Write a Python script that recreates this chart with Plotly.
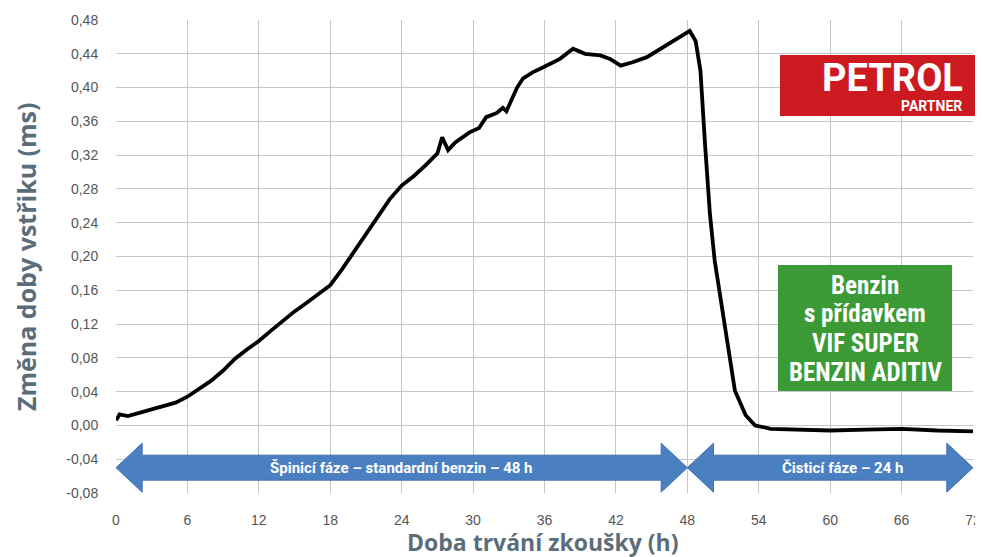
import plotly.graph_objects as go

# ---- data ----
hours = [0, 0.3, 1, 2, 3, 4, 5, 6, 7, 8, 9, 10, 11, 12, 13, 14, 15, 16, 17, 18,
         19, 20, 21, 22, 23, 24, 25, 26, 27, 27.4, 27.9, 28.5, 29.7, 30.5, 31.1,
         32, 32.5, 32.8, 33.7, 34.2, 35, 35.9, 37.3, 38.4, 39.4, 40.7, 41.5, 42.4,
         43.4, 44.6, 46, 47.4, 48.2, 48.7, 49.1, 49.5, 49.9, 50.3, 51.2, 52, 52.9,
         53.7, 55, 57, 60, 63, 66, 69, 72]
change_ms = [0.006, 0.013, 0.011, 0.015, 0.018, 0.022, 0.027, 0.034, 0.043, 0.053,
             0.065, 0.079, 0.09, 0.1, 0.112, 0.124, 0.135, 0.145, 0.155, 0.166,
             0.185, 0.206, 0.228, 0.248, 0.268, 0.284, 0.295, 0.308, 0.322, 0.341,
             0.326, 0.335, 0.347, 0.352, 0.365, 0.37, 0.376, 0.372, 0.4, 0.411,
             0.418, 0.424, 0.434, 0.446, 0.44, 0.438, 0.434, 0.426, 0.43, 0.436,
             0.448, 0.459, 0.467, 0.455, 0.42, 0.33, 0.25, 0.195, 0.112, 0.041,
             0.012, 0.0, -0.004, -0.005, -0.006, -0.005, -0.004, -0.006, -0.007]

x_ticks = [0, 6, 12, 18, 24, 30, 36, 42, 48, 54, 60, 66, 72]
y_ticks = [-0.08, -0.04, 0.0, 0.04, 0.08, 0.12, 0.16, 0.20, 0.24, 0.28, 0.32,
           0.36, 0.40, 0.44, 0.48]
y_ticklabels = [f"{v:.2f}".replace(".", ",") for v in y_ticks]

phases = [(0, 48, "Špinicí fáze – standardní benzin – 48 h"),
          (48, 72, "Čisticí fáze – 24 h")]
box_lines = ["Benzin", "s přídavkem", "VIF SUPER", "BENZIN ADITIV"]

# the page body has an 8px margin, so the figure is 8px smaller than the window
OFF = 8
W, H = 983 - OFF, 557 - OFF
L, T = 116 - OFF, 20 - OFF
R, B = W - (973 - OFF), H - (493 - OFF)
PW, PH = W - L - R, H - T - B


def px(xs):
    return (xs - OFF - L) / PW


def py(ys):
    return (H - B - (ys - OFF)) / PH


fig = go.Figure()
fig.add_trace(go.Scatter(x=hours, y=change_ms, mode="lines",
                         line=dict(color="black", width=3.8), hoverinfo="skip"))

# phase arrows
yc, bh, hh, hl = -0.05, 0.0148, 0.029, 2.2
shapes = []
annotations = []
for a, b, label in phases:
    path = (f"M {a},{yc} L {a+hl},{yc+hh} L {a+hl},{yc+bh} L {b-hl},{yc+bh} "
            f"L {b-hl},{yc+hh} L {b},{yc} L {b-hl},{yc-hh} L {b-hl},{yc-bh} "
            f"L {a+hl},{yc-bh} L {a+hl},{yc-hh} Z")
    shapes.append(dict(type="path", path=path, xref="x", yref="y",
                       fillcolor="#4a80c2", line=dict(color="#3f70ad", width=1)))
    annotations.append(dict(x=(a + b) / 2 + (1 if b == 72 else 0), y=yc, xref="x", yref="y",
                            xanchor="center", yanchor="middle",
                            text=f"<b>{label}</b>", showarrow=False,
                            font=dict(color="white", size=15, family="Roboto")))

# green info box
shapes.append(dict(type="rect", xref="paper", yref="paper",
                   x0=px(778), x1=px(952), y0=py(391), y1=py(265),
                   fillcolor="#3c9a36", line=dict(width=0)))
for i, line in enumerate(box_lines):
    annotations.append(dict(xref="paper", yref="paper", x=px(865), y=py(285 + 29 * i),
                            xanchor="center", yanchor="middle",
                            text=f"<b>{line}</b>", showarrow=False,
                            font=dict(color="white", size=25,
                                      family="Liberation Sans Narrow, Roboto Condensed, Roboto")))

# logo
shapes.append(dict(type="rect", xref="paper", yref="paper",
                   x0=px(780), x1=px(983), y0=py(116), y1=py(55),
                   fillcolor="#cc1a20", line=dict(width=0)))
annotations.append(dict(xref="paper", yref="paper", x=px(892), y=py(78),
                        xanchor="center", yanchor="middle",
                        text="<b>PETROL</b>", showarrow=False,
                        font=dict(color="white", size=38, family="Roboto")))
annotations.append(dict(xref="paper", yref="paper", x=px(931), y=py(106),
                        xanchor="center", yanchor="middle",
                        text="<b>PARTNER</b>", showarrow=False,
                        font=dict(color="white", size=14, family="Roboto")))

# axis titles
annotations.append(dict(xref="paper", yref="paper", x=px(543), y=py(542),
                        xanchor="center", yanchor="middle",
                        text="<b>Doba trvání zkoušky (h)</b>", showarrow=False,
                        font=dict(size=23, color="#5b6d79", family="Open Sans")))
annotations.append(dict(xref="paper", yref="paper", x=px(26), y=py(257),
                        xanchor="center", yanchor="middle", textangle=-90,
                        text="<b>Změna doby vstřiku (ms)</b>", showarrow=False,
                        font=dict(size=25, color="#5b6d79", family="Open Sans")))

fig.update_layout(
    width=W, height=H,
    margin=dict(l=L, r=R, t=T, b=B, autoexpand=False),
    paper_bgcolor="white", plot_bgcolor="white",
    showlegend=False,
    shapes=shapes, annotations=annotations,
    font=dict(family="Liberation Sans", color="#555555", size=13),
)
fig.update_xaxes(range=[0, 72], tickvals=x_ticks, ticktext=[str(v) for v in x_ticks],
                 showgrid=True, gridcolor="#c6c6c6", gridwidth=1, zeroline=False,
                 ticks="outside", ticklen=14, tickcolor="rgba(0,0,0,0)",
                 tickfont=dict(size=14, color="#555555"), automargin=False,
                 showline=False)
fig.update_yaxes(range=[-0.08, 0.48], tickvals=y_ticks, ticktext=y_ticklabels,
                 showgrid=True, gridcolor="#c6c6c6", gridwidth=1, zeroline=False,
                 ticks="outside", ticklen=14, tickcolor="rgba(0,0,0,0)",
                 tickfont=dict(size=14, color="#555555"), automargin=False,
                 showline=False)

fig.write_html("out.html")
